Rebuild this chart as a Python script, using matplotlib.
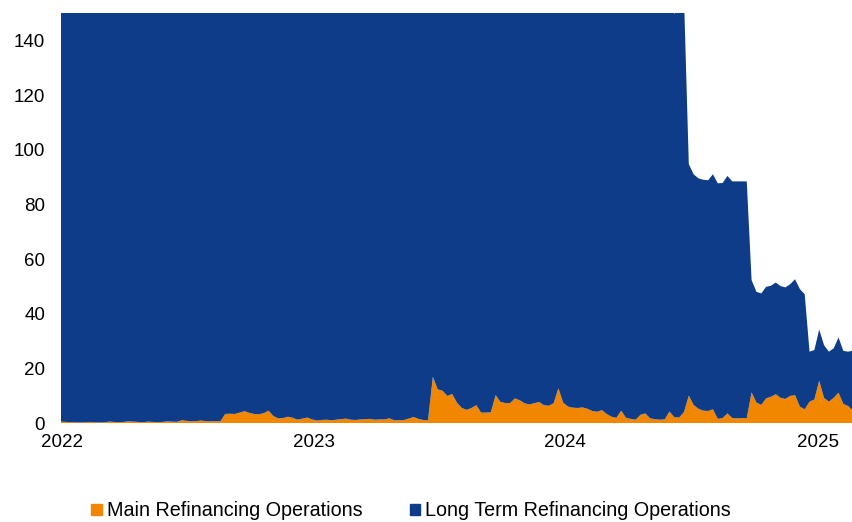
import pandas as pd
import matplotlib
matplotlib.use('Agg')
import matplotlib.pyplot as plt
import matplotlib.dates as mdates
from matplotlib.patches import Patch

plt.rcParams['font.family'] = ['Liberation Sans', 'DejaVu Sans']

# Weekly observations (Fridays), EUR bn
fechas = pd.date_range('2021-12-31', periods=165, freq='7D')

# Main Refinancing Operations
mro = [
    0.5, 0.4, 0.3, 0.3, 0.2, 0.3, 0.4, 0.3, 0.2, 0.3,
    0.5, 0.4, 0.3, 0.4, 0.6, 0.5, 0.4, 0.3, 0.5, 0.4,
    0.3, 0.4, 0.6, 0.5, 0.4, 1.0, 0.8, 0.6, 0.7, 0.9,
    0.7, 0.6, 0.7, 0.6, 3.3, 3.4, 3.3, 3.8, 4.3, 3.7,
    3.3, 3.2, 3.6, 4.5, 2.5, 1.7, 1.8, 2.3, 1.9, 1.2,
    1.6, 2.0, 1.3, 0.9, 1.1, 1.2, 1.0, 1.2, 1.4, 1.6,
    1.2, 1.1, 1.3, 1.4, 1.5, 1.2, 1.3, 1.3, 1.7, 1.0,
    1.0, 1.1, 1.6, 2.2, 1.5, 1.1, 1.0, 16.9, 12.3, 11.8,
    9.9, 10.6, 7.4, 5.5, 4.8, 5.5, 6.5, 3.8, 3.8, 3.9,
    10.2, 7.7, 7.3, 7.3, 9.0, 8.3, 7.2, 6.8, 7.2, 7.7,
    6.5, 6.3, 7.2, 12.7, 7.4, 6.0, 5.6, 5.5, 5.7, 5.2,
    4.4, 4.1, 4.7, 3.3, 2.3, 1.9, 4.5, 1.9, 1.5, 1.2,
    3.0, 3.5, 1.7, 1.4, 1.2, 1.3, 4.2, 2.1, 2.0, 4.0,
    10.0, 6.6, 5.2, 4.5, 4.4, 5.0, 1.5, 1.8, 3.5, 1.8,
    1.7, 1.8, 1.8, 11.2, 7.5, 6.6, 9.0, 9.6, 10.5, 9.2,
    8.8, 9.9, 10.2, 6.0, 5.0, 7.8, 8.6, 15.5, 9.2, 7.8,
    9.2, 11.1, 7.0, 6.2, 4.5,
]

# Long Term Refinancing Operations
ltro = [
    2202, 2201, 2201, 2200, 2198, 2198, 2199, 2198, 2197, 2197,
    2197, 2196, 2196, 2197, 2195, 2195, 2194, 2194, 2194, 2193,
    2193, 2193, 2192, 2192, 2192, 2126, 2125, 2125, 2124, 2124,
    2124, 2123, 2123, 2123, 2122, 2122, 2122, 2121, 2121, 2121,
    2120, 2120, 2120, 2119, 2119, 2119, 2119, 1823, 1823, 1822,
    1822, 1324, 1323, 1323, 1322, 1322, 1262, 1262, 1261, 1261,
    1261, 1260, 1260, 1260, 1259, 1064, 1064, 1063, 1063, 1063,
    1062, 1062, 1062, 1061, 1061, 1061, 1061, 594, 594, 593,
    593, 593, 592, 592, 592, 591, 591, 591, 591, 590,
    492, 492, 491, 491, 491, 490, 490, 490, 490, 489,
    489, 489, 489, 392, 392, 391, 391, 391, 390, 390,
    390, 390, 389, 389, 389, 389, 166, 166, 165, 165,
    165, 153, 153, 152, 152, 152, 152, 147.5, 152, 152,
    84.7, 84.4, 84.3, 84.5, 84.4, 86.0, 86.2, 86.0, 86.9, 86.6,
    86.7, 86.6, 86.6, 41.1, 40.5, 40.8, 40.8, 40.6, 40.9, 40.9,
    40.8, 40.9, 42.4, 43.0, 42.1, 18.3, 18.1, 18.7, 19.3, 18.3,
    18.1, 20.2, 19.4, 19.9, 22.0,
]

nombres = ['Main Refinancing Operations', 'Long Term Refinancing Operations']
colores = ['#F18700', '#0F3C88']

fig = plt.figure(figsize=(8.53, 5.22), dpi=100)
ax = fig.add_axes([61 / 853, 99 / 522, 792 / 853, 410 / 522])

ax.stackplot(fechas, mro, ltro, colors=colores, linewidth=0)

ax.set_xlim(fechas[0], fechas[-1])
ax.set_ylim(0, 150)
ax.set_yticks(range(0, 141, 20))
ax.xaxis.set_major_locator(mdates.YearLocator())
ax.xaxis.set_major_formatter(mdates.DateFormatter('%Y'))

for s in ax.spines.values():
    s.set_visible(False)
ax.tick_params(axis='y', length=0, pad=11.5, labelsize=13.5)
ax.tick_params(axis='x', length=0, pad=8, labelsize=13.5)

handles = [Patch(color=c) for c in colores]
fig.legend(handles, nombres, loc='center', bbox_to_anchor=(411 / 853, 1 - 511 / 522),
           ncol=2, frameon=False, fontsize=14.2, handlelength=0.55, handleheight=0.55,
           handletextpad=0.25, columnspacing=2.4, borderaxespad=0)

plt.savefig('out.png', dpi=100)
